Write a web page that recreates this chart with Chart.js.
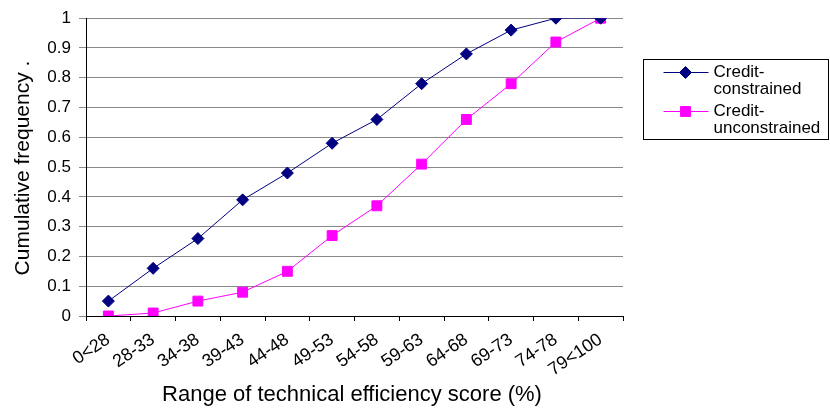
<!DOCTYPE html>
<html><head><meta charset="utf-8">
<script src="https://cdn.jsdelivr.net/npm/chart.js@4/dist/chart.umd.min.js"></script>
<style>html,body{margin:0;padding:0;background:#fff}#w{width:830px;height:410px;position:relative}</style>
</head><body><div id="w"><canvas id="c" width="830" height="410"></canvas></div>
<script>
const categories = ["0<28","28-33","34-38","39-43","44-48","49-53","54-58","59-63","64-68","69-73","74-78","79<100"];
const creditConstrained = [0.05,0.16,0.26,0.39,0.48,0.58,0.66,0.78,0.88,0.96,1.0,1.0];
const creditUnconstrained = [0.0,0.01,0.05,0.08,0.15,0.27,0.37,0.51,0.66,0.78,0.92,1.0];
const seriesNames = ["Credit-\nconstrained","Credit-\nunconstrained"];
const yTicks = [0,0.1,0.2,0.3,0.4,0.5,0.6,0.7,0.8,0.9,1];
const xTitle = 'Range of technical efficiency score (%)';
const yTitle = 'Cumulative frequency .';
const FONT = "'Liberation Sans', Arial, sans-serif";

const extrasPlugin = {
  id: 'extras',
  afterDraw(chart) {
    const ctx = chart.ctx;
    ctx.save();
    ctx.fillStyle = '#000';
    ctx.textAlign = 'center'; ctx.textBaseline = 'middle';
    ctx.font = "22px " + FONT;
    ctx.fillText(xTitle, 352, 395);
    ctx.font = "21px " + FONT;
    ctx.save();
    ctx.translate(23, 168); ctx.rotate(-Math.PI / 2);
    ctx.fillText(yTitle, 0, 0);
    ctx.restore();
    // legend
    const x0 = 643.5, y0 = 59.5, w = 185, h = 80;
    ctx.strokeStyle = '#000'; ctx.lineWidth = 1;
    ctx.strokeRect(x0, y0, w, h);
    ctx.font = "17px " + FONT;
    ctx.textAlign = 'left';
    chart.data.datasets.forEach((ds, i) => {
      const ly = y0 + 13 + i * 39;
      ctx.strokeStyle = ds.borderColor; ctx.lineWidth = 1;
      ctx.beginPath(); ctx.moveTo(x0 + 20, ly); ctx.lineTo(x0 + 65, ly); ctx.stroke();
      ctx.fillStyle = ds.pointBackgroundColor;
      ctx.strokeStyle = ds.pointBorderColor;
      Chart.helpers.drawPoint(ctx, {pointStyle: ds.pointStyle, radius: ds.pointRadius, borderWidth: 1}, x0 + 42, ly);
      ctx.fillStyle = '#000';
      ds.label.split('\n').forEach((t, j) => ctx.fillText(t, x0 + 70, ly + j * 17));
    });
    ctx.restore();
  }
};

new Chart(document.getElementById('c'), {
  type: 'line',
  data: {
    labels: categories,
    datasets: [
      {label: seriesNames[0], data: creditConstrained, borderColor: '#000080', backgroundColor: '#000080',
       pointBackgroundColor: '#000080', pointBorderColor: '#000080', borderWidth: 1, pointStyle: 'rectRot', pointRadius: 6, tension: 0},
      {label: seriesNames[1], data: creditUnconstrained, borderColor: '#FF00FF', backgroundColor: '#FF00FF',
       pointBackgroundColor: '#FF00FF', pointBorderColor: '#FF00FF', borderWidth: 1, pointStyle: 'rect', pointRadius: 7, tension: 0}
    ]
  },
  options: {
    responsive: false, animation: false,
    layout: {padding: {top: 8, right: 207, left: 0, bottom: 0}},
    plugins: {legend: {display: false}, tooltip: {enabled: false}},
    scales: {
      x: {
        offset: true,
        grid: {display: true, drawOnChartArea: false, color: '#000', tickLength: 5, offset: true},
        border: {color: '#000'},
        ticks: {color: '#000', font: {family: FONT, size: 18}, minRotation: 34, maxRotation: 34, padding: 8, autoSkip: false},
        afterFit(s) { s.height = 94; }
      },
      y: {
        min: 0, max: 1,
        afterBuildTicks(s) { s.ticks = yTicks.map(v => ({value: v})); },
        grid: {color: '#888', tickLength: 7},
        border: {color: '#000'},
        ticks: {color: '#000', font: {family: FONT, size: 17}, padding: 8, callback: v => String(v)},
        afterFit(s) { s.width = 86; }
      }
    }
  },
  plugins: [extrasPlugin]
});
</script></body></html>
